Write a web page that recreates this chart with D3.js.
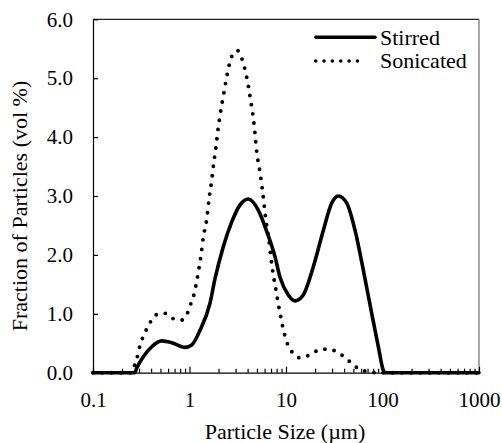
<!DOCTYPE html>
<html>
<head>
<meta charset="utf-8">
<script src="https://cdn.jsdelivr.net/npm/d3@7"></script>
<style>
  body { margin: 0; background: #fff; }
  svg text { font-family: "Liberation Serif", "Times New Roman", Times, Tinos, serif; fill: #000; }
</style>
</head>
<body>
<svg id="chart" width="502" height="443"></svg>
<script>
// Particle size distributions (µm vs vol %)
const stirredSize = [0.1, 0.27, 0.284, 0.332, 0.406, 0.515, 0.654, 0.898, 1.054, 1.285, 1.631, 1.84, 2.24, 2.74, 3.34, 4.07, 5.16, 6.31, 7.69, 8.67, 10.56, 12.4, 15.1, 19.2, 24.4, 29.8, 34.8, 42.6, 51.9, 63.3, 77.2, 90.6, 102, 106, 1000];
const stirredVol  = [0, 0, 0.08, 0.27, 0.44, 0.54, 0.51, 0.43, 0.47, 0.72, 1.18, 1.60, 2.14, 2.56, 2.85, 2.95, 2.76, 2.40, 1.97, 1.62, 1.32, 1.22, 1.32, 1.80, 2.42, 2.88, 3.00, 2.88, 2.42, 1.74, 1.01, 0.44, 0.04, 0, 0];

const sonicatedSize = [0.1, 0.25, 0.262, 0.284, 0.30, 0.32, 0.352, 0.39, 0.446, 0.548, 0.67, 0.83, 0.957, 1.036, 1.113, 1.22, 1.31, 1.39, 1.51, 1.59, 1.70, 1.79, 1.87, 1.96, 2.09, 2.26, 2.45, 2.74, 3.13, 3.47, 3.91, 4.24, 4.67, 5.0, 5.38, 5.74, 6.21, 6.66, 7.0, 7.45, 7.88, 8.33, 8.81, 9.61, 10.3, 11.45, 13.7, 17.0, 20.8, 25.9, 32.2, 39.3, 47.2, 56.1, 69.6, 87, 1000];
const sonicatedVol  = [0, 0, 0.08, 0.23, 0.40, 0.55, 0.71, 0.85, 0.98, 1.01, 0.92, 0.895, 1.02, 1.18, 1.33, 1.66, 1.97, 2.30, 2.61, 2.94, 3.27, 3.58, 3.80, 4.09, 4.41, 4.73, 5.05, 5.37, 5.47, 5.34, 5.02, 4.69, 4.21, 3.72, 3.40, 3.06, 2.58, 2.25, 1.93, 1.62, 1.40, 1.16, 0.95, 0.66, 0.50, 0.36, 0.255, 0.29, 0.37, 0.40, 0.37, 0.28, 0.17, 0.07, 0.02, 0, 0];

const seriesNames = ["Stirred", "Sonicated"];
const xMajorTicks = [0.1, 1, 10, 100, 1000];
const xTickLabels = ["0.1", "1", "10", "100", "1000"];
const yTicks = [0, 1, 2, 3, 4, 5, 6];
const xTitle = "Particle Size (\u00b5m)";
const yTitle = "Fraction of Particles (vol %)";

const svg = d3.select("#chart");
const plotLeft = 93, plotRight = 479, plotTop = 19.3, plotBottom = 372.7;

const x = d3.scaleLog().domain([0.1, 1000]).range([plotLeft, plotRight]);
const y = d3.scaleLinear().domain([0, 6]).range([plotBottom, plotTop]);

// minor ticks 2..9 in each decade
const xMinorTicks = [];
for (let dec = 0.1; dec < 1000; dec *= 10) {
  for (let k = 2; k <= 9; k++) xMinorTicks.push(+(dec * k).toPrecision(3));
}

// frame: top and right borders
svg.append("line").attr("x1", plotLeft).attr("x2", plotRight).attr("y1", plotTop).attr("y2", plotTop)
  .attr("stroke", "#222").attr("stroke-width", 1.2);
svg.append("line").attr("x1", plotRight).attr("x2", plotRight).attr("y1", plotTop).attr("y2", plotBottom)
  .attr("stroke", "#8a8a8a").attr("stroke-width", 1.5);

// x axis (ticks pointing inward)
svg.append("g").attr("transform", `translate(0,${plotBottom})`)
  .call(d3.axisBottom(x).tickValues(xMajorTicks).tickSize(-6).tickSizeOuter(0)
    .tickPadding(19).tickFormat((d, i) => xTickLabels[i]));
svg.append("g").attr("transform", `translate(0,${plotBottom})`)
  .call(d3.axisBottom(x).tickValues(xMinorTicks).tickSize(-4).tickSizeOuter(0).tickFormat(""))
  .call(g => g.select(".domain").remove());

// y axis (ticks pointing inward)
svg.append("g").attr("transform", `translate(${plotLeft},0)`)
  .call(d3.axisLeft(y).tickValues(yTicks).tickSize(-5).tickSizeOuter(0)
    .tickPadding(20).tickFormat(d3.format(".1f")));

svg.selectAll("g").attr("font-family", null);
svg.selectAll(".tick text").attr("font-size", 21).attr("fill", "#000");
svg.selectAll(".domain, .tick line").attr("stroke", "#000").attr("stroke-width", 1.2);

// series
const line = d3.line().x(d => x(d[0])).y(d => y(d[1])).curve(d3.curveMonotoneX);
const stirred = stirredSize.map((s, i) => [s, stirredVol[i]]);
const sonicated = sonicatedSize.map((s, i) => [s, sonicatedVol[i]]);

svg.append("path").datum(stirred).attr("d", line)
  .attr("fill", "none").attr("stroke", "#000").attr("stroke-width", 3.6)
  .attr("stroke-linejoin", "round").attr("stroke-linecap", "round");

svg.append("path").datum(sonicated).attr("d", line)
  .attr("fill", "none").attr("stroke", "#000").attr("stroke-width", 3.9)
  .attr("stroke-linecap", "round").attr("stroke-dasharray", "0 9.3");

// legend
const legend = svg.append("g");
legend.append("line").attr("x1", 316).attr("x2", 375).attr("y1", 37.3).attr("y2", 37.3)
  .attr("stroke", "#000").attr("stroke-width", 3.6).attr("stroke-linecap", "round");
legend.append("text").attr("x", 380).attr("y", 45).attr("font-size", 22).text(seriesNames[0]);
legend.append("line").attr("x1", 315.7).attr("x2", 365.8).attr("y1", 61).attr("y2", 61)
  .attr("stroke", "#000").attr("stroke-width", 3.6).attr("stroke-linecap", "round")
  .attr("stroke-dasharray", "0 8.35");
legend.append("text").attr("x", 380).attr("y", 68.3).attr("font-size", 22).text(seriesNames[1]);

// axis titles
svg.append("text").attr("x", 285).attr("y", 438.5).attr("text-anchor", "middle")
  .attr("font-size", 22).text(xTitle);
svg.append("text").attr("transform", "translate(27,206) rotate(-90)")
  .attr("text-anchor", "middle").attr("font-size", 22).text(yTitle);
</script>
</body>
</html>
